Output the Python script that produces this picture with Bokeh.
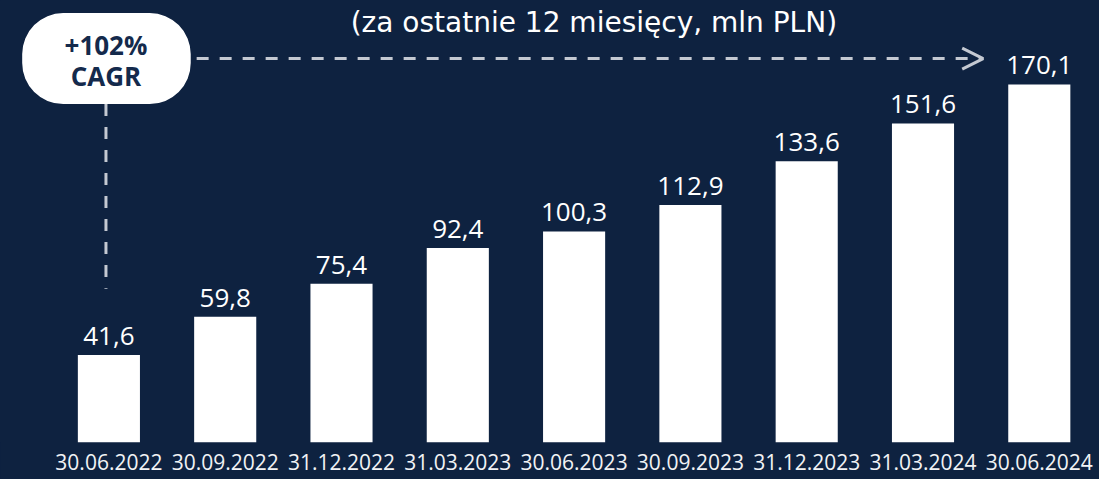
from bokeh.plotting import figure
from bokeh.models import Range1d, FixedTicker, BoxAnnotation, Arrow, OpenHead, Label
from bokeh.core.properties import value
from bokeh.embed import file_html
from bokeh.resources import INLINE

# ---- data ----
categories = ["30.06.2022", "30.09.2022", "31.12.2022", "31.03.2023", "30.06.2023",
              "30.09.2023", "31.12.2023", "31.03.2024", "30.06.2024"]
values = [41.6, 59.8, 75.4, 92.4, 100.3, 112.9, 133.6, 151.6, 170.1]
value_labels = [f"{v:.1f}".replace(".", ",") for v in values]
title_text = "(za ostatnie 12 miesięcy, mln PLN)"
cagr_line1 = "+102%"
cagr_line2 = "CAGR"

BG = "#0e2240"
DASH = "#c4c9d2"
FONT = "Open Sans"

W, H = 1099, 479
SX, SY = W / 1115, H / 495       # reference px -> figure px
FRAME_H = 442                    # frame height (px), axis below takes the rest
PX_PER_UNIT = 2.1047
Y_END = FRAME_H / PX_PER_UNIT
C0, STEP = 108.4, 116.3          # first bar centre and spacing (px)
X_START = (0 - C0) / STEP
X_END = (W - C0) / STEP

def dx(ref_x):
    return (ref_x * SX - C0) / STEP

def dy(ref_y):
    return (FRAME_H - ref_y * SY) / PX_PER_UNIT

xs = list(range(len(categories)))

p = figure(width=W, height=H, output_backend="svg", toolbar_location=None,
           x_range=Range1d(X_START, X_END), y_range=Range1d(0, Y_END),
           y_axis_type=None, min_border=0, min_border_bottom=H - FRAME_H)
p.background_fill_color = BG
p.border_fill_color = BG
p.styles = {"background-color": BG}
p.outline_line_color = None
p.grid.visible = False

p.vbar(x=xs, top=values, width=0.534, bottom=0, fill_color="white", line_color=None)
p.text(x=xs, y=values, text=value_labels, text_align="center", text_baseline="alphabetic",
       y_offset=-19, text_color="white", text_font_size="26px", text_font=value(FONT))

ax = p.xaxis[0]
ax.ticker = FixedTicker(ticks=xs)
ax.major_label_overrides = {i: c for i, c in enumerate(categories)}
ax.axis_line_color = None
ax.major_tick_line_color = None
ax.minor_tick_line_color = None
ax.major_tick_out = 0
ax.major_tick_in = 0
ax.major_label_standoff = 11
ax.major_label_text_color = "#f2f3f5"
ax.major_label_text_font = FONT
ax.major_label_text_font_size = "21px"

# title
p.add_layout(Label(x=dx(602), y=dy(23), text=title_text, text_align="center",
                   text_baseline="middle", text_color="white", text_font="DejaVu Sans",
                   text_font_size="28px"))

# dashed lines
p.segment(x0=[dx(107)], y0=[dy(107)], x1=[dx(107)], y1=[dy(298)],
          line_color=DASH, line_width=3, line_dash="12 11")
p.add_layout(Arrow(x_start=dx(199), y_start=dy(60), x_end=dx(997), y_end=dy(60),
                   line_color=DASH, line_width=3, line_dash="12 11",
                   end=OpenHead(size=21, line_color=DASH, line_width=3)))

# CAGR bubble
p.add_layout(BoxAnnotation(left=dx(22), right=dx(193), top=dy(13), bottom=dy(107),
                           fill_color="white", fill_alpha=1.0, line_color=None,
                           border_radius=41, level="overlay"))
p.add_layout(Label(x=dx(107), y=dy(46), text=cagr_line1, text_align="center",
                   text_baseline="middle", text_color="#142a4c", text_font=FONT,
                   text_font_style="bold", text_font_size="26px", level="overlay"))
p.add_layout(Label(x=dx(107), y=dy(78), text=cagr_line2, text_align="center",
                   text_baseline="middle", text_color="#142a4c", text_font=FONT,
                   text_font_style="bold", text_font_size="26px", level="overlay"))

open("out.html", "w").write(file_html(p, INLINE))
